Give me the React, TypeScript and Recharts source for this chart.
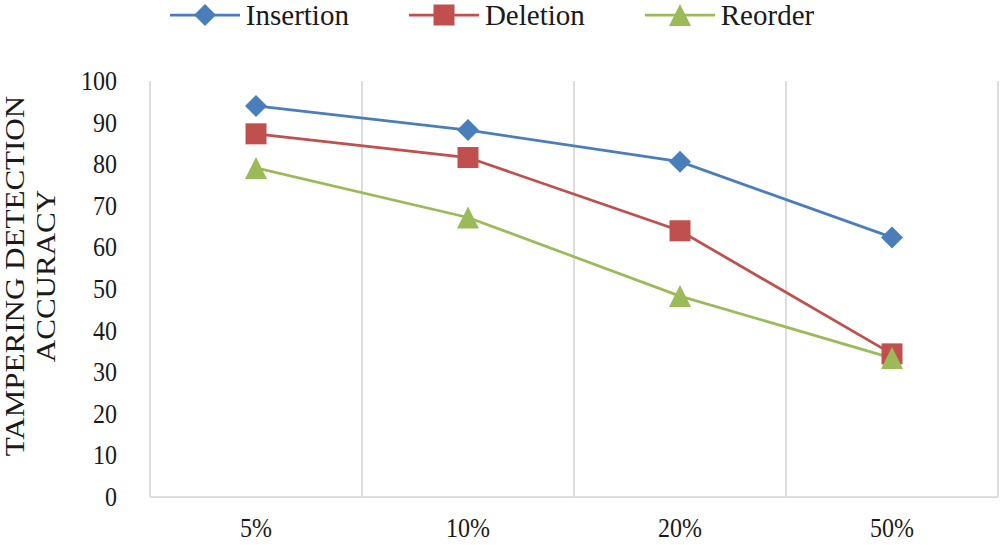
import { LineChart, Line, XAxis, YAxis, CartesianGrid } from "recharts";

const categories = ["5%", "10%", "20%", "50%"];
const insertion = [94.0, 88.2, 80.6, 62.4];
const deletion = [87.3, 81.6, 64.0, 34.4];
const reorder = [79.1, 67.2, 48.3, 33.4];
const yTicks = [0, 10, 20, 30, 40, 50, 60, 70, 80, 90, 100];

const COLORS = {
  insertion: "#4A7EBB",
  deletion: "#C0504D",
  reorder: "#9BBB59",
  grid: "#D9D9D9",
  text: "#1a1a1a",
};

const FONT = "'Liberation Serif', 'Times New Roman', serif";
const STRETCH = 1.15; // text in the source image is drawn slightly taller than wide

const data = categories.map((c, i) => ({
  cat: c,
  insertion: insertion[i],
  deletion: deletion[i],
  reorder: reorder[i],
}));

type Shape = "diamond" | "square" | "triangle";

function Marker({ cx, cy, shape, color }: { cx: number; cy: number; shape: Shape; color: string }) {
  if (shape === "diamond") {
    const r = 11;
    return <polygon points={`${cx},${cy - r} ${cx + r},${cy} ${cx},${cy + r} ${cx - r},${cy}`} fill={color} />;
  }
  if (shape === "square") {
    const s = 10.5;
    return <rect x={cx - s} y={cy - s} width={s * 2} height={s * 2} fill={color} />;
  }
  const h = 11;
  return <polygon points={`${cx},${cy - h} ${cx + h},${cy + h} ${cx - h},${cy + h}`} fill={color} />;
}

const series = [
  { key: "insertion", name: "Insertion", color: COLORS.insertion, shape: "diamond" as Shape },
  { key: "deletion", name: "Deletion", color: COLORS.deletion, shape: "square" as Shape },
  { key: "reorder", name: "Reorder", color: COLORS.reorder, shape: "triangle" as Shape },
];

function XTick({ x, y, payload }: any) {
  // baseline sits ~40px under the axis line
  return (
    <text
      transform={`translate(${x}, ${y + 40}) scale(1, ${STRETCH})`}
      textAnchor="middle"
      fill={COLORS.text}
      fontSize={24}
      style={{ fontFamily: FONT }}
    >
      {payload.value}
    </text>
  );
}

function YTick({ x, y, payload }: any) {
  return (
    <text
      transform={`translate(${x}, ${y + 9}) scale(1, ${STRETCH})`}
      textAnchor="end"
      fill={COLORS.text}
      fontSize={24}
      style={{ fontFamily: FONT }}
    >
      {payload.value}
    </text>
  );
}

function YLabel({ viewBox }: any) {
  const cy = viewBox.y + viewBox.height / 2 - 13;
  return (
    <g fill={COLORS.text} style={{ fontFamily: FONT }} fontSize={27}>
      <text textAnchor="middle" transform={`translate(24, ${cy}) rotate(-90) scale(${STRETCH}, 1)`}>
        TAMPERING DETECTION
      </text>
      <text textAnchor="middle" transform={`translate(55, ${cy}) rotate(-90) scale(${STRETCH}, 1)`}>
        ACCURACY
      </text>
    </g>
  );
}

function TopLegend() {
  return (
    <div
      style={{
        position: "absolute",
        top: 0,
        left: 0,
        width: 1002,
        display: "flex",
        justifyContent: "center",
        gap: 60,
        paddingRight: 18,
        boxSizing: "border-box",
        fontFamily: FONT,
        fontSize: 29,
        color: COLORS.text,
        lineHeight: "30px",
      }}
    >
      {series.map((s) => (
        <div key={s.key} style={{ display: "flex", alignItems: "center" }}>
          <svg width={70} height={28}>
            <line x1={0} y1={14} x2={70} y2={14} stroke={s.color} strokeWidth={2.75} />
            <Marker cx={35} cy={14} shape={s.shape} color={s.color} />
          </svg>
          <span style={{ marginLeft: 6 }}>{s.name}</span>
        </div>
      ))}
    </div>
  );
}

export default function App() {
  return (
    <div style={{ position: "relative", width: 1002, height: 545, fontFamily: FONT }}>
      <style>{"body{margin:0;background:#fff}"}</style>
      <LineChart
        width={1002}
        height={545}
        data={data}
        margin={{ top: 81, right: 4, bottom: 0, left: 0 }}
      >
        <CartesianGrid
          horizontal={false}
          stroke={COLORS.grid}
          strokeWidth={1.75}
          verticalCoordinatesGenerator={({ offset }: any) =>
            categories.map((_, i) => offset.left + ((i + 1) * offset.width) / categories.length)
          }
        />
        <XAxis
          dataKey="cat"
          scale="band"
          height={48}
          tickLine={false}
          tickSize={0}
          tickMargin={0}
          axisLine={{ stroke: COLORS.grid, strokeWidth: 1.75 }}
          tick={<XTick />}
        />
        <YAxis
          width={150}
          domain={[0, 100]}
          ticks={yTicks}
          interval={0}
          tickLine={false}
          tickSize={0}
          tickMargin={33}
          axisLine={{ stroke: COLORS.grid, strokeWidth: 1.75 }}
          tick={<YTick />}
          label={<YLabel />}
        />
        {series.map((s) => (
          <Line
            key={s.key}
            dataKey={s.key}
            name={s.name}
            type="linear"
            stroke={s.color}
            strokeWidth={2.75}
            isAnimationActive={false}
            dot={(p: any) => <Marker key={`${s.key}-${p.index}`} cx={p.cx} cy={p.cy} shape={s.shape} color={s.color} />}
            activeDot={false}
          />
        ))}
      </LineChart>
      <TopLegend />
    </div>
  );
}
